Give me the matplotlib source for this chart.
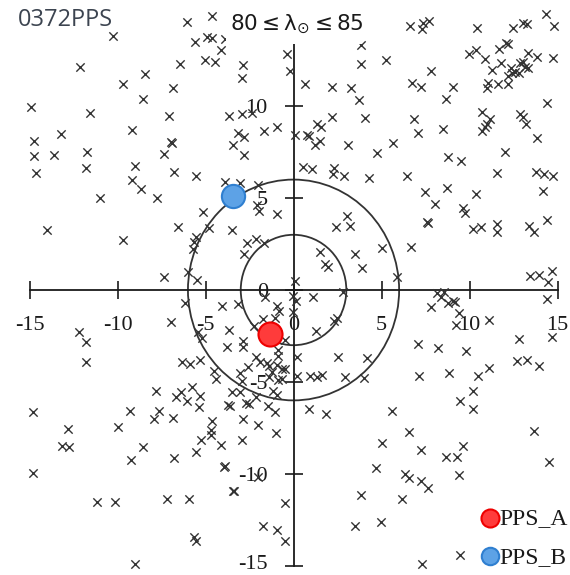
import matplotlib
matplotlib.use("Agg")
import matplotlib.pyplot as plt
from matplotlib.patches import Circle, Rectangle

plt.rcParams["axes.unicode_minus"] = False
plt.rcParams["mathtext.fontset"] = "dejavusans"

# ---------------- data ----------------
upper_left = [(-10.26,13.80),(-6.05,14.57),(-12.13,12.12),(-6.45,12.28),(-8.44,11.74),(-9.69,11.20),
 (-6.85,10.98),(-8.55,10.38),(-14.91,9.95),(-11.56,9.62),(-7.07,9.46),(-9.18,8.70),(-13.21,8.48),
 (-14.74,8.10),(-6.90,7.99),(-6.96,8.04),(-14.74,7.28),(-13.61,7.34),(-11.73,7.50),(-7.36,7.39),
 (-14.63,6.36),(-11.79,6.63),(-9.01,6.74),(-6.79,6.41),(-9.18,5.98),(-8.66,5.49),(-10.99,5.00),(-7.76,5.00)]
middle_left = [(-14.01,3.26),(-9.69,2.72),(-6.56,3.42),(-7.36,0.71),(-5.99,0.98),(-6.16,-0.71),(-6.96,-1.74),
 (-12.19,-2.28),(-11.79,-2.83),(-11.79,-3.91),(-6.34,-3.91),(-5.88,-4.02),(-5.31,-3.80)]
lower_left = [(-7.81,-5.49),(-6.39,-5.54),(-6.68,-5.82),(-6.05,-6.03),(-5.77,-5.27),(-5.31,-5.76),(-5.37,-6.36),
 (-14.80,-6.63),(-9.29,-6.58),(-7.64,-6.58),(-7.93,-7.01),(-6.85,-6.96),(-12.81,-7.55),(-9.97,-7.45),
 (-13.15,-8.48),(-12.76,-8.53),(-8.55,-8.53),(-9.23,-9.24),(-6.79,-9.13),(-14.80,-9.95),(-11.16,-11.52),
 (-10.14,-11.52),(-7.19,-11.36),(-5.94,-11.36),(-5.65,-13.42),(-5.54,-13.64),(-9.01,-14.89)]
upper_center = [(-4.63,14.89),(-5.60,13.48),(-4.91,13.75),(-4.63,13.70),(-3.89,13.64),(-4.12,13.04),
 (-5.03,12.50),(-4.46,12.39),(-2.87,12.23),(-2.93,11.52),(-0.37,12.83),(-0.20,11.90),(0.65,11.20),
 (2.19,11.03),(3.27,10.98),(3.84,12.28),(3.84,13.32),(3.72,10.33),(4.06,9.35),(-3.66,9.46),(-2.93,9.57),
 (-2.36,9.62),(-1.68,8.64),(-0.94,8.86),(-3.15,8.53),(-2.81,8.32),(-3.44,7.88),(-2.81,7.34),(0.09,8.42),
 (0.77,8.42),(0.88,8.37),(1.34,9.02),(1.56,8.86),(1.51,8.10),(1.22,7.88),(2.19,9.40),(3.10,7.88),
 (4.74,7.45),(0.54,6.68),(1.05,6.58),(2.30,6.63),(2.24,6.30),(2.87,6.20),(4.29,6.09),(-5.54,6.20),
 (-3.89,5.87),(-3.04,5.82),(-2.02,5.71)]
upper_right = [(6.62,14.35),(7.36,14.51),(7.70,14.62),(7.30,14.18),(10.43,14.24),(12.47,14.24),(13.04,14.51),
 (13.27,14.46),(14.35,15.00),(14.80,14.35),(5.26,12.50),(7.81,11.90),(9.97,12.83),(10.37,13.04),
 (10.88,12.55),(11.68,13.10),(12.07,13.42),(12.19,13.37),(11.28,11.96),(11.79,12.34),(12.19,11.63),
 (12.41,11.79),(12.36,12.07),(12.59,11.85),(12.87,12.34),(13.04,12.39),(13.15,12.12),(13.32,12.07),
 (12.81,11.79),(13.32,12.88),(13.84,12.66),(14.74,12.61),(11.05,11.25),(10.99,10.98),(11.62,11.20),
 (12.19,11.20),(6.73,11.25),(7.24,11.03),(9.06,11.03),(8.66,10.38),(14.40,10.16),(6.85,9.29),(7.07,8.53),
 (8.49,8.75),(10.71,9.67),(11.16,9.29),(10.99,9.02),(10.88,8.86),(10.71,8.64),(12.87,9.57),(13.04,9.40),
 (13.21,9.02),(13.84,8.26),(5.65,7.99),(12.02,7.50),(8.78,7.23),(9.52,7.01),(6.45,6.20),(11.56,6.36),
 (13.78,6.41),(14.23,6.30),(14.74,6.20),(7.47,5.33),(8.72,5.54),(10.37,5.22),(14.18,5.38)]
middle_right = [(8.04,4.67),(9.63,4.46),(9.74,4.18),(7.64,3.64),(7.60,3.67),(10.20,3.32),(10.65,3.42),
 (11.56,3.59),(11.56,3.15),(13.38,3.48),(13.66,3.15),(14.40,3.80),(6.68,2.34),(5.03,2.28),(5.88,0.71),
 (13.44,0.76),(13.95,0.82),(14.46,0.43),(14.69,1.03),(14.40,-0.49),(8.15,-0.16),(8.55,-0.11),(8.38,-0.38),
 (8.78,-0.71),(9.06,-0.60),(9.18,-0.65),(7.81,-0.92),(9.40,-1.25),(9.23,-1.90),(11.11,-1.63),(14.69,-2.55),
 (12.81,-2.66),(7.07,-2.93),(8.21,-3.15),(9.80,-3.32),(12.70,-3.86),(13.27,-3.80),(13.95,-4.13),
 (7.13,-4.67),(8.84,-4.51),(10.48,-4.67),(11.11,-4.24)]
lower_right = [(10.20,-5.49),(9.46,-6.03),(10.20,-6.47),(5.60,-6.58),(13.66,-7.66),(6.56,-7.72),(5.03,-8.32),
 (7.24,-8.70),(8.66,-9.08),(9.29,-9.08),(9.63,-8.48),(14.52,-9.35),(6.34,-10.00),(6.56,-10.22),
 (7.24,-10.38),(7.64,-10.76),(9.40,-10.05),(6.16,-11.36),(4.97,-12.61),(9.46,-14.40),(7.30,-14.89)]
lower_center = [(-3.49,-5.54),(-3.04,-5.54),(-3.72,-6.25),(-3.61,-6.30),(-2.70,-6.14),(-2.53,-6.20),
 (-2.13,-5.82),(-1.45,-6.30),(-1.05,-6.63),(-1.16,-5.49),(-0.94,-5.71),(0.88,-6.47),(1.85,-6.74),
 (-4.63,-7.12),(-4.69,-7.61),(-4.69,-7.88),(-5.26,-8.15),(-5.54,-8.80),(-4.12,-8.42),(-2.87,-7.01),
 (-2.02,-7.34),(-2.93,-8.15),(-0.99,-7.77),(-3.95,-9.62),(-3.90,-9.58),(-2.02,-10.16),(-3.44,-10.92),
 (-3.38,-10.95),(-0.48,-11.58),(-1.73,-12.83),(-0.94,-13.04),(-0.48,-13.64),(4.69,-9.67),(3.84,-11.14),
 (3.49,-12.83)]
center = [(-5.14,4.24),(-2.07,4.62),(-1.96,4.29),(-0.94,4.13),(-4.80,3.37),(-3.49,3.26),(-5.54,2.88),
 (-5.65,2.61),(-5.71,2.23),(-2.64,2.55),(-2.13,2.77),(-1.68,2.55),(-2.81,1.96),(3.04,4.02),(3.21,3.48),
 (2.41,3.42),(1.51,2.07),(3.49,1.96),(3.89,1.20),(1.79,1.41),(1.96,1.25),(-5.48,0.54),(0.09,0.49),
 (2.81,-0.11),(-0.03,-0.33),(0.14,-0.60),(1.11,-0.38),(-1.62,-0.38),(-0.94,-0.87),(-1.05,-1.52),
 (-1.73,-1.58),(-2.24,-1.96),(-3.15,-0.76),(-4.06,-0.87),(-0.03,-1.20),(2.30,-1.68),(2.47,-1.52),
 (-3.66,-2.17),(-5.43,-2.28),(-5.20,-2.61),(-2.87,-2.77),(-2.87,-3.10),(-3.78,-3.10),(1.28,-2.23),
 (-0.48,-2.72),(-0.88,-3.26),(-0.88,-3.59),(0.20,-3.64),(-2.13,-3.64),(-1.90,-3.91),(-2.59,-4.18),
 (-1.51,-3.97),(-1.39,-4.13),(-1.22,-4.46),(-0.94,-4.08),(-0.65,-4.29),(-0.48,-4.29),(-0.88,-4.89),
 (-0.65,-4.84),(-1.39,-4.73),(2.53,-3.64),(4.18,-3.70),(-4.52,-4.40),(-4.40,-4.84),(-3.04,-4.51),
 (-2.93,-4.95),(0.20,-4.67),(0.94,-4.67),(1.34,-4.73),(1.62,-4.62),(2.93,-4.73),(4.01,-4.78),(-0.82,-1.14)]

pps_a = (-1.34, -2.39)
pps_b = (-3.44, 5.10)
circle_radii = [3, 6]
x_ticks = [-15, -10, -5, 0, 5, 10, 15]
y_ticks = [-15, -10, -5, 0, 5, 10]
title = r"$\mathrm{80 \leq \lambda_{\odot} \leq 85}$"
corner_label = "0372PPS"

# ---------------- figure ----------------
fig = plt.figure(figsize=(5.7, 5.75), dpi=100)
ax = fig.add_axes([0, 0, 1, 1])
ax.set_xlim(-16.68, 15.71)
ax.set_ylim(-15.49, 15.76)

for s in ("top", "right"):
    ax.spines[s].set_visible(False)
for s in ("left", "bottom"):
    ax.spines[s].set_position(("data", 0))
    ax.spines[s].set_bounds(-15, 15)
    ax.spines[s].set_linewidth(1.3)
    ax.spines[s].set_color("#1a1a1a")

ax.set_xticks(x_ticks)
ax.set_yticks(y_ticks)
ax.set_xticklabels([str(t) for t in x_ticks])
# lowest y label drawn separately so it stays inside the picture
ax.set_yticklabels(["" if t == -15 else str(t) for t in y_ticks])
ax.tick_params(direction="inout", length=13, width=1.2, color="#1a1a1a",
               labelsize=16, labelcolor="#1a1a1a")
ax.tick_params(axis="x", pad=12)
ax.tick_params(axis="y", pad=12)
for lab in ax.get_xticklabels() + ax.get_yticklabels():
    lab.set_fontfamily("Liberation Serif")
ax.annotate(str(y_ticks[0]), xy=(0, y_ticks[0]), xytext=(-18.5, 1.2),
            textcoords="offset points", ha="right", va="center", fontsize=16,
            family="Liberation Serif", color="#1a1a1a", annotation_clip=False)

for r in circle_radii:
    ax.add_patch(Circle((0, 0), r, fill=False, ec="#333333", lw=1.3, zorder=2))

all_pts = upper_left + middle_left + lower_left + upper_center + upper_right + \
    middle_right + lower_right + lower_center + center
xs = [p[0] for p in all_pts]
ys = [p[1] for p in all_pts]
ax.scatter(xs, ys, marker="x", s=36, linewidths=1.0, c="#333333", zorder=3)

ha = ax.scatter([pps_a[0]], [pps_a[1]], s=300, facecolor="#ff3b3b", edgecolor="#ee0000",
                linewidths=1.5, zorder=4, label="PPS_A")
hb = ax.scatter([pps_b[0]], [pps_b[1]], s=280, facecolor="#5da2e6", edgecolor="#2f7fd0",
                linewidths=1.5, zorder=4, label="PPS_B")

leg = ax.legend(handles=[ha, hb], loc="lower right", bbox_to_anchor=(1.025, -0.016),
                frameon=False, markerscale=0.75, handletextpad=-0.1, handlelength=1.0,
                labelspacing=0.72, borderpad=0.2,
                prop={"family": "Liberation Serif", "size": 17})
for t in leg.get_texts():
    t.set_color("#1a1a1a")

# white block behind the title (hides top of the vertical axis)
fig.add_artist(Rectangle((226 / 570, 1 - 44 / 575), 136 / 570, 44 / 575,
                         transform=fig.transFigure, fc="white", ec="none", zorder=5))
fig.text(297 / 570, 1 - 24 / 575, title, ha="center", va="center", fontsize=15.5,
         color="#1a1a1a", zorder=10)
fig.text(18 / 570, 1 - 20 / 575, corner_label, ha="left", va="center", fontsize=17,
         family="Open Sans", color="#3c4450")

fig.savefig("out.png", dpi=100)
